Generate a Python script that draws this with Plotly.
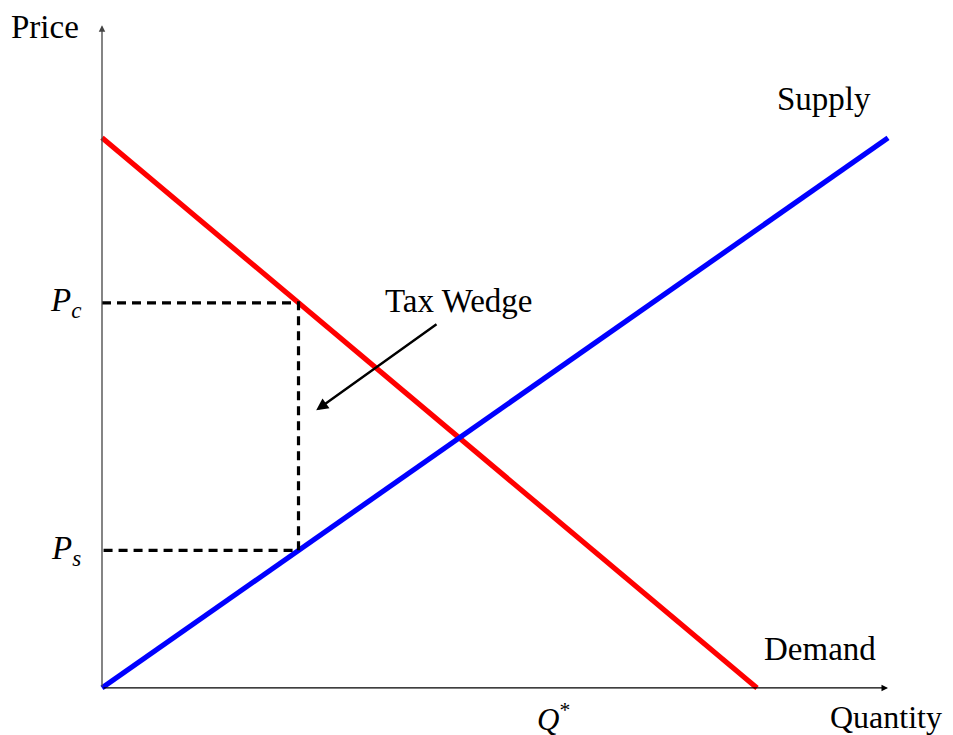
import plotly.graph_objects as go

# Data (model units)
supply_q = [0, 12]
supply_p = [0, 8.4]
demand_q = [0, 10]
demand_p = [8.4, 0]
q_tax = 3.0
p_consumer = 5.88
p_seller = 2.1
q_star_label_x = 6.9
x_axis_max = 12
y_axis_max = 10.12

FONT = "Liberation Serif"
fs = 33

fig = go.Figure()
fig.add_trace(go.Scatter(x=demand_q, y=demand_p, mode="lines",
                         line=dict(color="#ff0000", width=5.2), hoverinfo="skip"))
fig.add_trace(go.Scatter(x=supply_q, y=supply_p, mode="lines",
                         line=dict(color="#0000ff", width=5.2), hoverinfo="skip"))
# dashed tax wedge lines
fig.add_trace(go.Scatter(x=[0, q_tax, q_tax, 0], y=[p_consumer, p_consumer, p_seller, p_seller],
                         mode="lines", line=dict(color="black", width=3.2, dash="9px,6px"),
                         hoverinfo="skip"))

ann = []
# axes with arrows
ann.append(dict(x=x_axis_max, y=0, ax=0, ay=0, xref="x", yref="y", axref="x", ayref="y",
                showarrow=True, arrowhead=2, arrowsize=1, arrowwidth=1.3, arrowcolor="black", text=""))
ann.append(dict(x=0, y=y_axis_max, ax=0, ay=0, xref="x", yref="y", axref="x", ayref="y",
                showarrow=True, arrowhead=2, arrowsize=1, arrowwidth=1.3, arrowcolor="#444", text=""))
# tax wedge arrow
ann.append(dict(x=3.27, y=4.24, ax=5.13, ay=5.57, xref="x", yref="y", axref="x", ayref="y",
                showarrow=True, arrowhead=2, arrowsize=1, arrowwidth=2.4, arrowcolor="black", text=""))

def label(x, y, text, size=fs):
    ann.append(dict(x=x, y=y, xref="x", yref="y", text=text, showarrow=False,
                    xanchor="center", yanchor="middle",
                    font=dict(family=FONT, size=size, color="black")))

label(-0.87, 10.09, "Price")
label(11.97, -0.45, "Quantity", 32)
label(11.03, 9.0, "Supply")
label(10.96, 0.6, "Demand")
label(5.44, 5.91, "Tax Wedge")
label(-0.55, p_consumer, "<i>P</i><sub><i>c</i></sub>")
label(-0.55, p_seller, "<i>P</i><sub><i>s</i></sub>")
label(q_star_label_x, -0.45, "<i>Q</i><sup>*</sup>", 31)

# page has an 8px body margin: figure starts at page pixel (8, 8)
fig.update_layout(
    width=945, height=727,
    margin=dict(l=0, r=0, t=0, b=0),
    paper_bgcolor="white", plot_bgcolor="white",
    showlegend=False,
    annotations=ann,
    xaxis=dict(range=[-1.435, 12.992], visible=False, fixedrange=True),
    yaxis=dict(range=[-0.718, 10.382], visible=False, fixedrange=True),
)

fig.write_html("out.html")
